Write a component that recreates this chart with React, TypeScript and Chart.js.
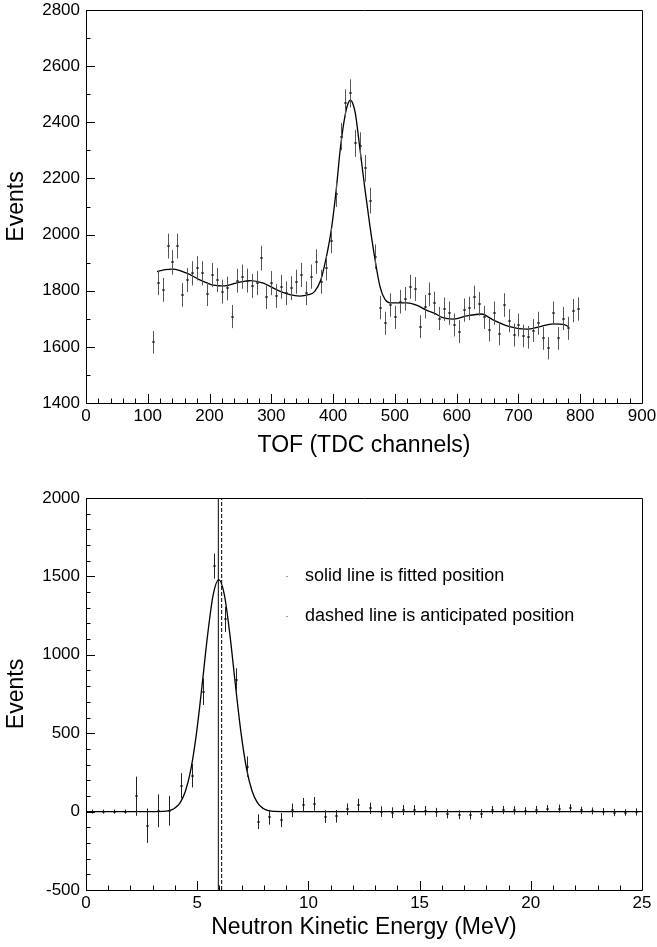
import React, { useEffect, useRef } from "react";
import { Chart, registerables } from "chart.js";

Chart.register(...registerables);
Chart.defaults.font.family = "'Liberation Sans', Arial, Helvetica, sans-serif";
Chart.defaults.color = "#000";

// ---- TOF spectrum (upper panel) ----
const tofChannels = [
  108, 116, 124, 132, 140, 148, 156, 164, 172, 180, 188, 196, 204, 212, 220, 228, 236, 244, 252, 260,
  268, 276, 284, 292, 300, 308, 316, 324, 332, 340, 348, 356, 364, 372, 380, 388, 396, 404, 412, 420,
  428, 436, 444, 452, 460, 468, 476, 484, 492, 500, 508, 516, 524, 532, 540, 548, 556, 564, 572, 580,
  588, 596, 604, 612, 620, 628, 636, 644, 652, 660, 668, 676, 684, 692, 700, 708, 716, 724, 732, 740,
  748, 756, 764, 772, 780, 788, 796,
];
const tofEvents = [
  1616, 1827, 1803, 1959, 1901, 1959, 1785, 1838, 1862, 1880, 1862, 1788, 1856, 1838, 1797, 1808, 1708, 1836, 1850, 1836,
  1817, 1827, 1916, 1777, 1827, 1781, 1814, 1791, 1809, 1832, 1856, 1791, 1850, 1904, 1832, 1880, 1978, 2145, 2349, 2468,
  2503, 2325, 2316, 2236, 2121, 1921, 1740, 1684, 1749, 1705, 1761, 1771, 1814, 1806, 1672, 1743, 1787, 1755, 1701, 1734,
  1720, 1678, 1654, 1731, 1737, 1776, 1753, 1705, 1660, 1720, 1646, 1749, 1693, 1642, 1678, 1639, 1634, 1658, 1684, 1630,
  1595, 1720, 1630, 1701, 1666, 1729, 1735,
];
// counting (Poisson) uncertainty of each channel
const tofErrors = tofEvents.map((n) => Math.sqrt(n));

const tofFitX = [
  115, 128, 140, 152, 164, 185, 206, 225, 244, 265, 287, 309, 330, 346, 360, 370, 380, 388, 397, 405,
  412, 420, 424, 428, 432, 436, 443, 451, 459, 468, 476, 484, 492, 505, 519, 535, 551, 564, 576, 595,
  616, 640, 659, 686, 713, 735, 756, 773, 781,
];
const tofFitY = [
  1868, 1875, 1877, 1872, 1862, 1838, 1820, 1817, 1828, 1836, 1827, 1803, 1786, 1781, 1786, 1797, 1838, 1909, 2016, 2159,
  2313, 2432, 2466, 2479, 2466, 2432, 2313, 2171, 2040, 1909, 1814, 1769, 1757, 1757, 1757, 1749, 1731, 1720, 1705, 1699,
  1710, 1717, 1696, 1672, 1663, 1672, 1682, 1680, 1672,
];

// ---- Neutron kinetic energy spectrum (lower panel) ----
const energyBins = [
  0.25, 0.75, 1.25, 1.75, 2.25, 2.75, 3.25, 3.75, 4.25, 4.75, 5.25, 5.75, 6.25, 6.75, 7.25, 7.75,
  8.25, 8.75, 9.25, 9.75, 10.25, 10.75, 11.25, 11.75, 12.25, 12.75, 13.25, 13.75, 14.25, 14.75, 15.25, 15.75,
  16.25, 16.75, 17.25, 17.75, 18.25, 18.75, 19.25, 19.75, 20.25, 20.75, 21.25, 21.75, 22.25, 22.75, 23.25, 23.75,
  24.25, 24.75,
];
const energyEvents = [
  0, 0, 0, 0, 98, -90, 5, 5, 165, 229, 765, 1566, 1226, 839, 287, -64,
  -36, -54, 8, 42, 49, -32, -30, 15, 42, 21, 0, -7, 10, 10, 6, -5,
  -14, -20, -22, -13, 10, 10, 8, 4, 10, 19, 19, 21, 8, 4, 0, -6,
  -6, -2,
];
const energyErrors = [
  0, 0, 0, 0, 125, 110, 105, 95, 80, 75, 85, 80, 80, 75, 65, 47,
  47, 45, 43, 45, 44, 40, 40, 37, 40, 36, 34, 34, 32, 32, 30, 29,
  29, 28, 28, 28, 26, 26, 27, 24, 26, 23, 26, 26, 23, 22, 23, 23,
  21, 23,
];
const energyFitX = [
  0, 3.2, 3.47, 3.72, 3.97, 4.22, 4.47, 4.72, 4.97, 5.22, 5.47, 5.72, 5.97, 6.22, 6.47, 6.72,
  6.97, 7.22, 7.47, 7.72, 7.97, 8.22, 8.47, 8.8, 25,
];
const energyFitY = [
  0, 0, 1, 6, 20, 54, 130, 273, 502, 806, 1129, 1384, 1480, 1384, 1129, 806,
  502, 273, 130, 54, 20, 6, 1, 0, 0,
];
const fittedPeak = 5.95;
const anticipatedPeak = 6.1;
const noteLines = ["solid line is fitted position", "dashed line is anticipated position"];
const noteLevels = [1500, 1250];

const toPoints = (xs: number[], ys: number[]) => xs.map((x, i) => ({ x, y: ys[i] }));

// error bars with a small centre mark, drawn through the chart scales
const errorBarPlugin = {
  id: "errorBars",
  afterDatasetsDraw(chart: any) {
    const { ctx, chartArea: a } = chart;
    const xs = chart.scales.x;
    const ys = chart.scales.y;
    ctx.save();
    ctx.beginPath();
    ctx.rect(a.left, a.top, a.right - a.left, a.bottom - a.top);
    ctx.clip();
    chart.data.datasets.forEach((ds: any) => {
      if (!ds.errors) return;
      ds.data.forEach((p: any, j: number) => {
        const px = Math.round(xs.getPixelForValue(p.x)) + 0.5;
        const py = ys.getPixelForValue(p.y);
        const e = ds.errors[j];
        let top = ys.getPixelForValue(p.y + e);
        let bot = ys.getPixelForValue(p.y - e);
        if (bot - top < 4) {
          top = py - 2;
          bot = py + 2;
        }
        ctx.strokeStyle = ds.barColor;
        ctx.lineWidth = 1;
        ctx.beginPath();
        ctx.moveTo(px, top);
        ctx.lineTo(px, bot);
        ctx.stroke();
        ctx.fillStyle = "#000";
        ctx.fillRect(px - 1.5, Math.round(py) - 0.5, 3, 1);
      });
    });
    ctx.restore();
  },
};

// frame and inward-pointing ticks on the left and bottom axes
const frameTicksPlugin = {
  id: "frameTicks",
  afterDraw(chart: any, _args: any, opts: any) {
    const { ctx, chartArea: a } = chart;
    const xs = chart.scales.x;
    const ys = chart.scales.y;
    ctx.save();
    ctx.strokeStyle = "#000";
    ctx.lineWidth = 1;
    ctx.beginPath();
    ctx.rect(a.left + 0.5, a.top + 0.5, a.right - a.left, a.bottom - a.top);
    ctx.stroke();
    ctx.beginPath();
    const eps = 1e-6;
    for (let v = xs.min; v <= xs.max + eps; v += opts.xMinor) {
      const major = Math.abs(v / opts.xMajor - Math.round(v / opts.xMajor)) < 1e-6;
      const px = Math.round(xs.getPixelForValue(v)) + 0.5;
      const len = major ? 9 : 4.5;
      ctx.moveTo(px, a.bottom);
      ctx.lineTo(px, a.bottom - len);
    }
    for (let v = ys.min; v <= ys.max + eps; v += opts.yMinor) {
      const major = Math.abs(v / opts.yMajor - Math.round(v / opts.yMajor)) < 1e-6;
      const py = Math.round(ys.getPixelForValue(v)) + 0.5;
      const len = major ? 9 : 4.5;
      ctx.moveTo(a.left, py);
      ctx.lineTo(a.left + len, py);
    }
    ctx.stroke();
    ctx.restore();
  },
};

// explanatory notes inside the lower panel
const notesPlugin = {
  id: "notes",
  afterDraw(chart: any, _args: any, opts: any) {
    if (!opts || !opts.lines) return;
    const { ctx } = chart;
    const xs = chart.scales.x;
    const ys = chart.scales.y;
    ctx.save();
    ctx.font = "18px 'Liberation Sans', Arial, sans-serif";
    ctx.fillStyle = "#000";
    ctx.textBaseline = "middle";
    ctx.textAlign = "left";
    opts.lines.forEach((t: string, i: number) => {
      const x = xs.getPixelForValue(opts.x);
      const y = ys.getPixelForValue(opts.levels[i]);
      ctx.fillText(t, x, y);
      ctx.fillStyle = "#999";
      ctx.fillRect(Math.round(xs.getPixelForValue(opts.markX)), Math.round(y), 2, 1);
      ctx.fillStyle = "#000";
    });
    ctx.restore();
  },
};

const plainNumber = (v: any) => String(v);

function axisX(min: number, max: number, step: number, title: string, height: number, titlePad: number) {
  return {
    type: "linear",
    min,
    max,
    afterFit: (s: any) => {
      s.height = height;
      s.paddingLeft = 0;
      s.paddingRight = 0;
    },
    grid: { display: false, drawTicks: false },
    border: { display: false },
    ticks: {
      stepSize: step,
      autoSkip: false,
      maxRotation: 0,
      padding: 5,
      color: "#000",
      font: { size: 17, lineHeight: 1 },
      callback: plainNumber,
    },
    title: {
      display: true,
      text: title,
      color: "#000",
      font: { size: 23 },
      padding: { top: 0, bottom: titlePad },
    },
  };
}

function axisY(min: number, max: number, step: number) {
  return {
    type: "linear",
    min,
    max,
    afterFit: (s: any) => {
      s.width = 86;
      s.paddingTop = 0;
      s.paddingBottom = 0;
    },
    grid: { display: false, drawTicks: false },
    border: { display: false },
    ticks: {
      stepSize: step,
      autoSkip: false,
      padding: 6,
      color: "#000",
      font: { size: 17, lineHeight: 1 },
      callback: plainNumber,
    },
    title: {
      display: true,
      text: "Events",
      color: "#000",
      font: { size: 23 },
      padding: { top: 3.2, bottom: 0 },
    },
  };
}

function tofConfig(): any {
  return {
    type: "scatter",
    data: {
      datasets: [
        {
          data: toPoints(tofChannels, tofEvents),
          errors: tofErrors,
          barColor: "#555",
          pointRadius: 0,
          showLine: false,
        },
        {
          data: toPoints(tofFitX, tofFitY),
          showLine: true,
          pointRadius: 0,
          borderColor: "#000",
          borderWidth: 1.3,
          cubicInterpolationMode: "monotone",
        },
      ],
    },
    options: {
      responsive: false,
      animation: false,
      devicePixelRatio: 1,
      events: [],
      layout: { padding: { left: 0, top: 10, right: 15, bottom: 0 } },
      scales: {
        x: axisX(0, 900, 100, "TOF (TDC channels)", 67, 10.2),
        y: axisY(1400, 2800, 200),
      },
      plugins: {
        legend: { display: false },
        tooltip: { enabled: false },
        frameTicks: { xMajor: 100, xMinor: 20, yMajor: 200, yMinor: 100 },
      },
    },
    plugins: [errorBarPlugin, frameTicksPlugin],
  };
}

function energyConfig(): any {
  return {
    type: "scatter",
    data: {
      datasets: [
        {
          data: toPoints(energyBins, energyEvents),
          errors: energyErrors,
          barColor: "#222",
          pointRadius: 0,
          showLine: false,
        },
        {
          data: toPoints(energyFitX, energyFitY),
          showLine: true,
          pointRadius: 0,
          borderColor: "#000",
          borderWidth: 1.3,
          cubicInterpolationMode: "monotone",
        },
        {
          data: [
            { x: fittedPeak, y: -500 },
            { x: fittedPeak, y: 2000 },
          ],
          showLine: true,
          pointRadius: 0,
          borderColor: "#000",
          borderWidth: 1,
        },
        {
          data: [
            { x: anticipatedPeak, y: -500 },
            { x: anticipatedPeak, y: 2000 },
          ],
          showLine: true,
          pointRadius: 0,
          borderColor: "#000",
          borderWidth: 1,
          borderDash: [4, 2],
        },
      ],
    },
    options: {
      responsive: false,
      animation: false,
      devicePixelRatio: 1,
      events: [],
      layout: { padding: { left: 0, top: 28, right: 15, bottom: 0 } },
      scales: {
        x: axisX(0, 25, 5, "Neutron Kinetic Energy (MeV)", 57, 5.2),
        y: axisY(-500, 2000, 500),
      },
      plugins: {
        legend: { display: false },
        tooltip: { enabled: false },
        frameTicks: { xMajor: 5, xMinor: 1, yMajor: 500, yMinor: 100 },
        notes: { lines: noteLines, levels: noteLevels, x: 9.85, markX: 9.0 },
      },
    },
    plugins: [errorBarPlugin, frameTicksPlugin, notesPlugin],
  };
}

export default function App() {
  const topRef = useRef<HTMLCanvasElement>(null);
  const bottomRef = useRef<HTMLCanvasElement>(null);

  useEffect(() => {
    const top = new Chart(topRef.current as HTMLCanvasElement, tofConfig());
    const bottom = new Chart(bottomRef.current as HTMLCanvasElement, energyConfig());
    return () => {
      top.destroy();
      bottom.destroy();
    };
  }, []);

  return (
    <div style={{ position: "absolute", left: 0, top: 0, width: 657, height: 947, background: "#fff" }}>
      <canvas ref={topRef} width={657} height={470} style={{ position: "absolute", left: 0, top: 0 }} />
      <canvas ref={bottomRef} width={657} height={477} style={{ position: "absolute", left: 0, top: 470 }} />
    </div>
  );
}
